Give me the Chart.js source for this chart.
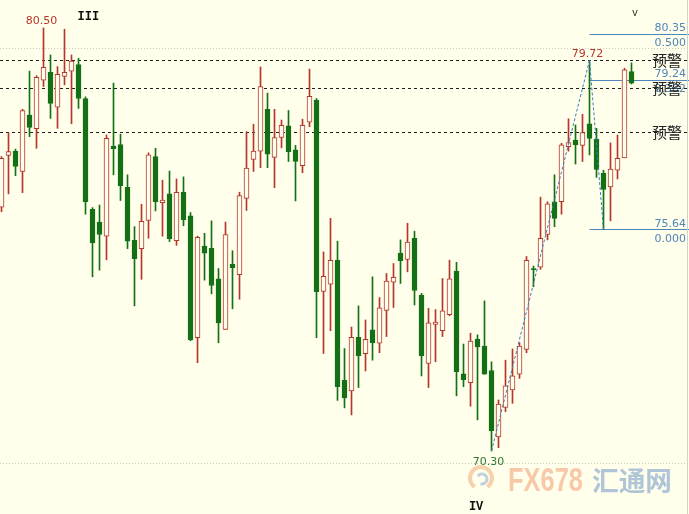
<!DOCTYPE html>
<html>
<head>
<meta charset="utf-8">
<script src="https://cdn.jsdelivr.net/npm/chart.js@4.4.0/dist/chart.umd.min.js"></script>
<style>
  html, body { margin: 0; padding: 0; background: #ffffec; }
  #wrap { width: 689px; height: 514px; }
</style>
</head>
<body>
<div id="wrap"><canvas id="chart" width="689" height="514"></canvas></div>
<script>
// daily candles (left to right)
const opens = [
  76.18, 77.43, 77.53, 77.04, 78.40, 78.07, 79.24, 79.43, 78.59, 79.33,
  79.46, 79.62, 78.80, 76.13, 75.82, 75.48, 77.65, 77.69, 76.66, 75.38,
  75.18, 75.86, 77.40, 76.29, 76.50, 75.37, 76.54, 75.97, 73.03, 75.24,
  75.19, 74.45, 73.23, 74.80, 74.55, 76.39, 77.33, 77.53, 78.54, 77.38,
  77.86, 78.14, 77.56, 77.18, 78.23, 78.76, 74.15, 74.32, 74.90, 72.01,
  71.75, 73.04, 72.65, 73.22, 72.90, 73.69, 74.37, 75.07, 74.92, 75.43,
  74.06, 72.41, 73.35, 73.20, 73.59, 74.64, 72.16, 71.95, 73.00, 72.83,
  72.24, 70.64, 71.35, 71.77, 72.15, 72.75, 74.70, 74.73, 75.52, 76.31,
  76.31, 77.64, 77.80, 77.67, 78.19, 77.82, 77.00, 76.67, 77.07, 77.37,
  79.45
];
const highs = [
  77.40, 77.98, 77.58, 78.54, 79.46, 79.35, 80.50, 79.85, 79.57, 80.47,
  79.85, 79.77, 78.84, 76.17, 76.23, 77.92, 79.17, 77.94, 76.96, 75.71,
  76.25, 77.49, 77.60, 76.83, 77.05, 76.86, 76.91, 76.05, 75.48, 75.55,
  75.85, 74.70, 75.82, 75.13, 76.54, 78.00, 78.18, 79.56, 78.93, 78.54,
  78.28, 78.51, 77.67, 78.30, 79.51, 78.80, 75.10, 75.91, 75.36, 72.77,
  73.29, 73.80, 73.46, 74.50, 74.00, 74.58, 74.82, 75.39, 75.79, 75.60,
  74.10, 73.74, 73.71, 74.46, 74.90, 74.85, 72.88, 73.14, 73.10, 73.92,
  72.45, 71.53, 72.49, 72.76, 72.91, 74.99, 74.76, 76.42, 76.31, 76.96,
  77.72, 78.31, 78.16, 78.42, 79.72, 78.08, 77.07, 77.73, 77.92, 79.53,
  79.66
];
const lows = [
  76.07, 76.50, 76.94, 76.53, 77.88, 77.60, 79.09, 78.32, 78.08, 79.13,
  78.19, 78.56, 76.01, 74.50, 74.66, 74.91, 76.96, 76.34, 75.18, 73.80,
  74.44, 75.43, 76.09, 75.48, 75.35, 75.26, 75.73, 72.96, 72.43, 74.42,
  74.09, 72.91, 73.23, 73.73, 73.96, 76.10, 77.04, 77.13, 77.13, 76.65,
  77.61, 77.28, 76.33, 77.01, 78.12, 73.03, 72.65, 73.20, 71.52, 71.34,
  71.17, 71.83, 72.23, 72.49, 72.67, 73.06, 73.76, 74.34, 74.62, 73.82,
  72.11, 71.83, 72.45, 73.06, 73.56, 71.63, 71.85, 71.38, 71.05, 72.15,
  70.30, 70.38, 71.25, 71.45, 72.05, 72.67, 74.26, 74.68, 75.39, 75.71,
  76.01, 77.53, 77.22, 77.28, 77.44, 76.90, 75.64, 75.85, 76.86, 77.37,
  79.15
];
const closes = [
  77.36, 77.52, 77.16, 78.51, 78.10, 79.31, 79.55, 78.68, 79.38, 79.43,
  79.70, 78.80, 76.31, 75.32, 75.52, 77.84, 77.59, 76.70, 75.36, 74.94,
  75.84, 77.44, 76.31, 76.35, 75.42, 76.54, 75.87, 72.98, 75.45, 75.07,
  74.29, 73.39, 75.52, 74.72, 76.46, 77.12, 77.53, 79.09, 77.46, 77.86,
  78.15, 77.52, 77.28, 78.15, 78.85, 74.14, 74.51, 74.90, 71.85, 71.58,
  73.04, 72.60, 72.99, 72.91, 73.75, 74.40, 74.49, 74.89, 75.34, 74.17,
  72.60, 73.39, 73.41, 73.68, 74.45, 72.21, 72.02, 72.95, 72.81, 72.15,
  70.79, 71.43, 71.87, 72.11, 72.83, 74.90, 74.67, 75.43, 76.26, 75.91,
  77.68, 77.74, 77.68, 77.98, 77.84, 77.09, 76.61, 77.10, 77.36, 79.49,
  79.17
];

// swing points joined by the dotted line (candle index, price)
const pivotIdx = [70, 84, 86];
const pivotVal = [70.30, 79.72, 75.64];

// fibonacci levels drawn from the 79.72 swing
const fibPrices = [80.35, 79.24, 75.64];
const fibRatios = ['0.500', '0.382', '0.000'];

// alert lines and round-number grid
const alertLevels = [79.72, 79.05, 77.98];
const alertText = '预警';
const gridLevels = [80.0, 70.0];

// wave counts (text, candle index)
const waveLabels = ['III', 'IV', 'V'];
const waveIdx = [12.4, 67.8, 90.5];

const BG = '#ffffec';
const RED = '#b5362a';
const GREEN = '#147014';
const BLUE = '#4f86bb';

const idx = opens.map(function(o, i) { return i; });
const up = opens.map(function(o, i) { return closes[i] >= o; });

function hline(ctx, x0, x1, y) {
  const yy = Math.floor(y) + 0.5;
  ctx.beginPath();
  ctx.moveTo(x0, yy);
  ctx.lineTo(x1, yy);
  ctx.stroke();
}

const overlay = {
  id: 'overlay',
  beforeDraw(chart) {
    const ctx = chart.ctx;
    ctx.save();
    ctx.fillStyle = BG;
    ctx.fillRect(0, 0, chart.width, chart.height);
    ctx.restore();
  },
  beforeDatasetsDraw(chart) {
    const { ctx, chartArea } = chart;
    const x = chart.scales.x;
    const y = chart.scales.y;
    ctx.save();
    ctx.lineWidth = 1;

    ctx.strokeStyle = '#c9c9c0';
    ctx.setLineDash([1, 2]);
    gridLevels.forEach(function(p) {
      hline(ctx, chartArea.left, chartArea.right, y.getPixelForValue(p));
    });

    ctx.strokeStyle = '#1e1e1e';
    ctx.setLineDash([3, 3]);
    alertLevels.forEach(function(p) {
      hline(ctx, chartArea.left, chartArea.right, y.getPixelForValue(p));
    });

    ctx.setLineDash([]);
    ctx.strokeStyle = BLUE;
    const fx = x.getPixelForValue(pivotIdx[1]);
    fibPrices.forEach(function(p) {
      hline(ctx, fx, chartArea.right, y.getPixelForValue(p));
    });

    // price axis edge on the right
    ctx.strokeStyle = '#d2d2cc';
    ctx.beginPath();
    ctx.moveTo(687.5, 0);
    ctx.lineTo(687.5, chart.height);
    ctx.stroke();
    ctx.restore();
  },
  afterDatasetsDraw(chart) {
    const { ctx, chartArea } = chart;
    const x = chart.scales.x;
    const y = chart.scales.y;
    ctx.save();

    // fib labels: price above the line, ratio below
    ctx.font = '11px "DejaVu Sans"';
    ctx.fillStyle = BLUE;
    ctx.textAlign = 'right';
    ctx.textBaseline = 'alphabetic';
    fibPrices.forEach(function(p, k) {
      const py = y.getPixelForValue(p);
      ctx.fillText(p.toFixed(2), 686, py - 3);
      ctx.fillText(fibRatios[k], 686, py + 12);
    });

    ctx.font = '15px "Noto Sans CJK SC"';
    ctx.fillStyle = '#222';
    ctx.textAlign = 'left';
    ctx.textBaseline = 'middle';
    alertLevels.forEach(function(p) {
      ctx.fillText(alertText, 652, y.getPixelForValue(p));
    });

    // high / low marks
    ctx.font = '11px "DejaVu Sans"';
    ctx.textAlign = 'center';
    ctx.textBaseline = 'alphabetic';
    ctx.fillStyle = RED;
    const hiIdx = highs.indexOf(Math.max.apply(null, highs));
    ctx.fillText(highs[hiIdx].toFixed(2), x.getPixelForValue(hiIdx) - 2, y.getPixelForValue(highs[hiIdx]) - 4);
    ctx.fillText(pivotVal[1].toFixed(2), x.getPixelForValue(pivotIdx[1]) - 2, y.getPixelForValue(pivotVal[1]) - 3);
    ctx.fillStyle = '#2f7a2f';
    ctx.fillText(pivotVal[0].toFixed(2), x.getPixelForValue(pivotIdx[0]) - 3, y.getPixelForValue(pivotVal[0]) + 14);

    // wave counts
    ctx.fillStyle = '#111';
    ctx.font = 'bold 12px "Liberation Mono"';
    ctx.fillText(waveLabels[0], x.getPixelForValue(waveIdx[0]), 20);
    ctx.fillText(waveLabels[1], x.getPixelForValue(waveIdx[1]), 510);
    ctx.font = '9px "Liberation Mono"';
    ctx.fillText(waveLabels[2], x.getPixelForValue(waveIdx[2]), 16);

    // watermark
    ctx.lineWidth = 4;
    ctx.strokeStyle = 'rgba(240,170,120,0.55)';
    ctx.beginPath();
    ctx.arc(481, 478, 11, 0.7 * Math.PI, 2.3 * Math.PI);
    ctx.stroke();
    ctx.lineWidth = 3;
    ctx.strokeStyle = 'rgba(150,180,210,0.6)';
    ctx.beginPath();
    ctx.arc(482, 479, 5, 1.2 * Math.PI, 2.6 * Math.PI);
    ctx.stroke();

    ctx.textAlign = 'left';
    ctx.textBaseline = 'alphabetic';
    ctx.font = 'bold 33px "Liberation Sans"';
    ctx.fillStyle = 'rgba(243,165,125,0.6)';
    const w1 = ctx.measureText('FX678').width;
    ctx.save();
    ctx.translate(508, 491);
    ctx.scale(75 / w1, 1);
    ctx.fillText('FX678', 0, 0);
    ctx.restore();

    ctx.font = 'bold 27px "Noto Sans CJK SC"';
    ctx.fillStyle = 'rgba(150,178,210,0.75)';
    const w2 = ctx.measureText('汇通网').width;
    ctx.save();
    ctx.translate(592, 491);
    ctx.scale(80 / w2, 1);
    ctx.fillText('汇通网', 0, 0);
    ctx.restore();

    ctx.restore();
  }
};

const canvas = document.getElementById('chart');
const chart = new Chart(canvas, {
  type: 'bar',
  data: {
    datasets: [
      {
        type: 'line',
        data: pivotIdx.map(function(i, k) { return { x: i, y: pivotVal[k] }; }),
        borderColor: '#3f7cc0',
        borderWidth: 1,
        borderDash: [3, 2],
        pointRadius: 0,
        order: 0
      },
      {
        label: 'body',
        data: idx.map(function(i) { return { x: i, y: [opens[i], closes[i]] }; }),
        backgroundColor: up.map(function(u) { return u ? BG : GREEN; }),
        borderColor: up.map(function(u) { return u ? RED : GREEN; }),
        borderWidth: 1,
        borderSkipped: false,
        barThickness: 5,
        grouped: false,
        order: 1
      },
      {
        label: 'wick',
        data: idx.map(function(i) { return { x: i, y: [lows[i], highs[i]] }; }),
        backgroundColor: up.map(function(u) { return u ? RED : GREEN; }),
        borderWidth: 0,
        barThickness: 1,
        grouped: false,
        order: 2
      }
    ]
  },
  options: {
    responsive: false,
    animation: false,
    events: [],
    layout: { padding: 0 },
    plugins: { legend: { display: false }, tooltip: { enabled: false } },
    scales: {
      x: { type: 'linear', display: false, offset: false, min: -1.5 / 7, max: 687.5 / 7 },
      y: { type: 'linear', display: false, min: 68.781, max: 81.175 }
    }
  },
  plugins: [overlay]
});
</script>
</body>
</html>
